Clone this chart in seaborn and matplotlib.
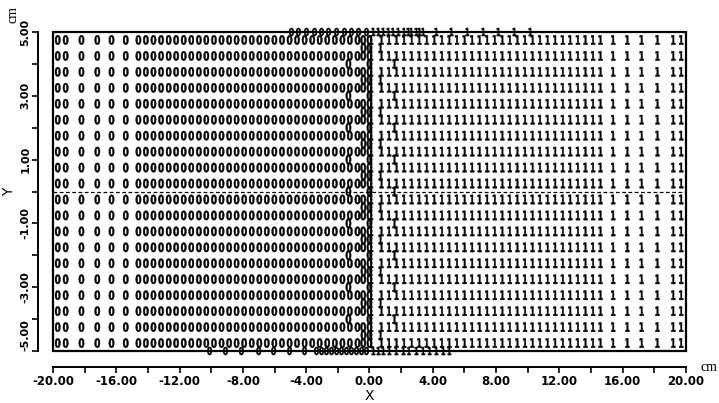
import numpy as np
import pandas as pd
import matplotlib.pyplot as plt
import matplotlib.ticker as ticker
from matplotlib.patches import Rectangle
from matplotlib.textpath import TextPath
from matplotlib.font_manager import FontProperties
from matplotlib.transforms import Affine2D
import seaborn as sns

sns.set_theme(style="ticks")
plt.rcParams['font.family'] = ['DejaVu Sans']
plt.rcParams['axes.unicode_minus'] = False
plt.rcParams['text.color'] = 'black'
plt.rcParams['axes.labelcolor'] = 'black'
plt.rcParams['xtick.color'] = 'black'
plt.rcParams['ytick.color'] = 'black'

# ============================
# DADOS (posicoes dos nos da malha, em cm)
# ============================
row_y = [4.75, 4.25, 3.75, 3.25, 2.75, 2.25, 1.75, 1.25, 0.75, 0.25,
         -0.25, -0.75, -1.25, -1.75, -2.25, -2.75, -3.25, -3.75, -4.25, -4.75]

# colunas finas e grossas (espelhadas: esquerda = material 0, direita = material 1)
col_fine = [0.76, 1.24, 1.71, 2.19, 2.67, 3.15, 3.62, 4.10, 4.58, 5.05,
            5.53, 6.01, 6.49, 6.96, 7.44, 7.92, 8.40, 8.87, 9.35, 9.83,
            10.31, 10.78, 11.26, 11.74, 12.22, 12.69, 13.17, 13.65, 14.13, 14.60]
col_coarse = [15.4, 16.3, 17.2, 18.2, 19.2, 19.7]

# interface em x = 0
iface_zero_x = [-0.4, 0.0]
iface_one_x = [0.1]
mid_near_y = [4.5, 3.5, 2.5, 1.5, 0.5, -0.5, -1.5, -2.5, -3.5, -4.5]
mid_far_y = [4.0, 3.0, 2.0, 1.0, 0.0, -1.0, -2.0, -3.0, -4.0]
near_x = [-0.38, 0.7]
far_x = [-1.33, 1.58]

# nos sobre o contorno superior (y = 5) e inferior (y = -5)
top_zero_x = [-4.93, -4.49, -3.98, -3.47, -3.03, -2.59, -2.08, -1.58, -1.14, -0.69, -0.19]
top_one_x = [0.25, 0.57, 0.88, 1.2, 1.5, 1.83, 2.2, 2.46, 2.65, 2.97, 3.16, 3.4,
             4.23, 5.18, 6.19, 7.2, 8.15, 9.16, 10.17]
bot_zero_x = [-10.1, -9.1, -8.1, -7.0, -6.06, -5.05, -4.1, -3.35, -3.03, -2.72,
              -2.4, -2.08, -1.77, -1.45, -1.14, -0.82, -0.5, -0.19]
bot_one_x = [0.25, 0.57, 0.88, 1.26, 1.7, 2.15, 2.5, 2.97, 3.4, 3.8, 4.23, 4.67, 5.05]

x_major = [-20, -16, -12, -8, -4, 0, 4, 8, 12, 16, 20]
y_major = [-5, -3, -1, 1, 3, 5]

# ============================
# MONTAGEM DA TABELA
# ============================
recs = []
for y in row_y:
    for x in col_fine + col_coarse:
        recs.append((-x, y, '0'))
        recs.append((x, y, '1'))
    for x in iface_zero_x:
        recs.append((x, y, '0'))
    for x in iface_one_x:
        recs.append((x, y, '1'))
for y in mid_near_y:
    recs += [(near_x[0], y, '0'), (0.0, y, '0'), (0.05, y, '1'), (near_x[1], y, '1')]
for y in mid_far_y:
    recs += [(far_x[0], y, '0'), (0.0, y, '0'), (0.05, y, '1'), (far_x[1], y, '1')]
df_malha = pd.DataFrame(recs, columns=['x', 'y', 'mat'])

borda = [(x, 5.0, '0') for x in top_zero_x] + [(x, 5.0, '1') for x in top_one_x] \
      + [(x, -5.0, '0') for x in bot_zero_x] + [(x, -5.0, '1') for x in bot_one_x]
df_borda = pd.DataFrame(borda, columns=['x', 'y', 'mat'])


def glifo(ch, estreito):
    """Caractere como marcador, centrado e estreitado (fonte de plotter)."""
    tp = TextPath((0, 0), ch, size=1,
                  prop=FontProperties(family='DejaVu Sans', weight='bold'))
    ext = tp.get_extents()
    cx, cy = (ext.x0 + ext.x1) / 2, (ext.y0 + ext.y1) / 2
    return tp.transformed(Affine2D().translate(-cx, -cy).scale(estreito, 1))


marcadores = {'0': glifo('0', 0.72), '1': glifo('1', 0.6)}

# ============================
# GRAFICO
# ============================
fig = plt.figure(figsize=(7.19, 4.03), dpi=100)
ax = fig.add_axes([0.0737, 0.129, 0.8804, 0.7916])

sns.scatterplot(data=df_malha, x='x', y='y', style='mat', markers=marcadores,
                color='black', edgecolor='black', s=46, linewidth=0.3,
                legend=False, ax=ax, clip_on=False)
sns.scatterplot(data=df_borda, x='x', y='y', style='mat', markers=marcadores,
                color='black', edgecolor='black', s=34, linewidth=0.3,
                legend=False, ax=ax, clip_on=False)

ax.axhline(0, color='black', lw=0.9, ls=(0, (3, 2)))
ax.add_patch(Rectangle((0, 0), 1, 1, transform=ax.transAxes, fill=False,
                       lw=1.6, edgecolor='black', clip_on=False))

ax.set_xlim(-20, 20)
ax.set_ylim(-5, 5)
ax.xaxis.set_major_locator(ticker.FixedLocator(x_major))
ax.xaxis.set_minor_locator(ticker.MultipleLocator(2))
ax.yaxis.set_major_locator(ticker.FixedLocator(y_major))
ax.yaxis.set_minor_locator(ticker.MultipleLocator(1))
ax.xaxis.set_major_formatter(ticker.FormatStrFormatter('%.2f'))
ax.yaxis.set_major_formatter(ticker.FormatStrFormatter('%.2f'))

# eixos deslocados do quadro (deslocamento em pontos)
for lado in ['top', 'right']:
    ax.spines[lado].set_visible(False)
ax.spines['left'].set_position(('outward', 10.8))
ax.spines['bottom'].set_position(('outward', 11.5))
for lado in ['left', 'bottom']:
    ax.spines[lado].set_linewidth(1.4)
    ax.spines[lado].set_color('black')

ax.tick_params(which='both', direction='out', length=4, width=1.2,
               color='black', labelcolor='black')
ax.tick_params(axis='x', labelsize=8.5, pad=1.5)
ax.tick_params(axis='y', labelsize=8, labelrotation=90, pad=1.5)
for lbl in ax.get_xticklabels() + ax.get_yticklabels():
    lbl.set_fontweight('bold')
ylabels = ax.get_yticklabels()
for lbl in ylabels:
    lbl.set_va('center')
ylabels[0].set_va('bottom')

ax.set_xlabel('X', fontsize=10, labelpad=1, color='black')
ax.set_ylabel('Y', fontsize=10, labelpad=3, color='black')
ax.grid(False)

fig.text(0.018, 0.965, 'cm', rotation=90, ha='center', va='center',
         family='Liberation Serif', fontsize=10, color='black')
fig.text(0.986, 0.089, 'cm', ha='center', va='center',
         family='Liberation Serif', fontsize=10, color='black')

plt.savefig('out.png', dpi=100)
plt.close()
